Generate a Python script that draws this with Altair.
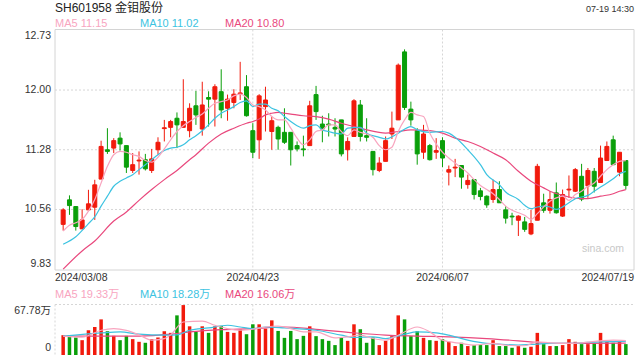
import altair as alt
import pandas as pd

FONT = "Liberation Sans, Arial, Noto Sans CJK SC, sans-serif"
RED = "#f11a0c"
GREEN = "#0a9f0a"
C5 = "#f8a5bf"
C10 = "#3cc3e1"
C20 = "#e9487d"
TXT = "#333333"
GRID = "#d6d6d6"

title_text = "SH601958 金钼股份"
time_text = "07-19 14:30"
watermark = "sina.com"
ma_names = ["MA5", "MA10", "MA20"]
price_ma_last = ["11.15", "11.02", "10.80"]
vol_ma_last = ["19.33万", "18.28万", "16.06万"]

price_ticks = [12.73, 12.00, 11.28, 10.56, 9.83]
vol_ticks = [67.78, 0]
vol_tick_labels = ["67.78万", "0"]
dates = ["2024/03/08", "2024/04/23", "2024/06/07", "2024/07/19"]
date_idx = [0, 30, 60, 89]

opens = [10.38, 10.676, 10.595, 10.326, 10.555, 10.587, 10.926, 11.28, 11.30, 11.42,
         11.33, 11.03, 11.145, 11.16, 11.03, 11.28, 11.535, 11.55, 11.66, 11.55,
         11.51, 11.81, 11.53, 11.91, 11.89, 11.98, 11.78, 11.85, 11.955, 12.04,
         11.51, 11.40, 11.80, 11.50, 11.55, 11.49, 11.49, 11.33, 11.29, 11.33,
         11.945, 11.59, 11.59, 11.55, 11.64, 11.28, 11.44, 11.82, 11.45, 11.26,
         11.03, 11.14, 11.47, 11.64, 12.46, 11.77, 11.51, 11.25, 11.33, 11.25,
         11.39, 11.01, 11.06, 11.09, 10.86, 10.92, 10.785, 10.72, 10.68, 10.80,
         10.555, 10.48, 10.43, 10.41, 10.265, 10.43, 10.64, 10.55, 10.76, 10.48,
         10.795, 10.78, 10.96, 10.845, 11.02, 10.885, 11.15, 11.40, 11.01, 11.15]
closes = [10.555, 10.607, 10.354, 10.434, 10.628, 10.857, 11.32, 11.26, 11.39, 11.35,
          11.07, 11.10, 11.155, 11.05, 11.17, 11.37, 11.545, 11.62, 11.58, 11.62,
          11.78, 11.70, 11.82, 11.89, 12.04, 11.76, 11.89, 11.95, 11.965, 11.69,
          11.25, 11.93, 11.88, 11.63, 11.41, 11.37, 11.28, 11.29, 11.28, 11.81,
          11.74, 11.53, 11.58, 11.53, 11.23, 11.38, 11.87, 11.44, 11.43, 11.04,
          11.12, 11.39, 11.54, 12.30, 11.79, 11.64, 11.23, 11.47, 11.16, 11.27,
          11.18, 11.04, 11.07, 10.95, 10.91, 10.74, 10.716, 10.615, 10.80, 10.64,
          10.455, 10.47, 10.48, 10.32, 10.39, 11.08, 10.55, 10.68, 10.52, 10.74,
          10.805, 11.04, 10.685, 11.03, 10.84, 11.18, 11.32, 11.10, 11.25, 10.85]
highs = [10.575, 10.73, 10.60, 10.563, 10.797, 10.918, 11.389, 11.54, 11.42, 11.49,
         11.33, 11.24, 11.26, 11.23, 11.29, 11.43, 11.64, 11.64, 11.73, 12.13,
         11.84, 11.99, 12.10, 11.985, 12.07, 12.25, 11.945, 12.01, 12.34, 12.18,
         11.60, 11.95, 12.04, 11.68, 11.57, 11.78, 11.49, 11.38, 11.45, 11.87,
         12.05, 11.69, 11.72, 11.66, 11.64, 11.43, 11.89, 11.88, 11.66, 11.26,
         11.19, 11.44, 11.74, 12.32, 12.49, 11.86, 11.54, 11.58, 11.35, 11.42,
         11.43, 11.09, 11.17, 11.09, 10.98, 10.92, 10.82, 10.73, 10.92, 10.90,
         10.60, 10.52, 10.49, 10.47, 10.555, 11.11, 10.75, 10.78, 10.885, 10.80,
         10.97, 11.06, 11.11, 11.06, 11.06, 11.33, 11.38, 11.45, 11.25, 11.15]
lows = [10.305, 10.495, 10.305, 10.326, 10.555, 10.434, 10.926, 11.23, 11.24, 11.27,
        11.00, 11.00, 10.98, 11.03, 11.00, 11.22, 11.38, 11.43, 11.30, 11.55,
        11.43, 11.58, 11.45, 11.56, 11.56, 11.66, 11.63, 11.78, 11.88, 11.68,
        11.18, 11.17, 11.50, 11.28, 11.28, 11.35, 11.09, 11.26, 11.20, 11.33,
        11.64, 11.37, 11.44, 11.44, 11.20, 11.15, 11.44, 11.38, 11.38, 10.97,
        11.01, 11.14, 11.41, 11.64, 11.76, 11.57, 11.10, 11.17, 11.15, 11.17,
        11.07, 10.85, 10.95, 10.81, 10.81, 10.68, 10.67, 10.58, 10.64, 10.64,
        10.39, 10.37, 10.24, 10.29, 10.25, 10.43, 10.52, 10.51, 10.51, 10.47,
        10.70, 10.77, 10.66, 10.70, 10.765, 10.88, 11.15, 11.10, 10.96, 10.80]
volumes = [26.6, 26.6, 23.5, 19.9, 33.2, 37.6, 47.8, 31.9, 25.7, 19.9,
           25.7, 21.3, 17.7, 16.4, 21.3, 23.5, 31.9, 29.7, 53.2, 67.0,
           38.5, 31.0, 38.5, 29.7, 38.5, 39.0, 31.0, 29.7, 34.1, 27.9,
           41.2, 41.2, 35.4, 46.5, 32.3, 23.0, 32.3, 21.3, 25.7, 38.5,
           25.3, 21.3, 19.0, 13.3, 23.5, 19.0, 41.2, 34.6, 16.4, 23.5,
           13.3, 19.0, 25.3, 53.2, 47.8, 25.3, 31.9, 23.0, 19.9, 19.0,
           21.3, 17.7, 12.0, 16.4, 12.0, 13.3, 13.3, 13.3, 19.9, 12.0,
           12.0, 9.7, 12.0, 9.7, 11.1, 29.7, 14.6, 12.0, 12.0, 13.3,
           21.3, 17.7, 14.6, 14.6, 15.5, 29.7, 17.7, 16.4, 17.7, 14.6]

# moving-average lines (index, value)
ma5_idx = list(range(90))
ma5_val = [10.30, 10.37, 10.40, 10.44, 10.54, 10.68, 10.88, 11.08, 11.22, 11.26,
           11.25, 11.22, 11.20, 11.15, 11.13, 11.19, 11.29, 11.40, 11.50, 11.57,
           11.62, 11.67, 11.71, 11.78, 11.84, 11.86, 11.88, 11.93, 11.95, 11.91,
           11.82, 11.80, 11.76, 11.68, 11.64, 11.64, 11.54, 11.42, 11.34, 11.40,
           11.50, 11.52, 11.58, 11.58, 11.50, 11.45, 11.52, 11.49, 11.47, 11.43,
           11.33, 11.28, 11.31, 11.50, 11.64, 11.73, 11.70, 11.68, 11.48, 11.35,
           11.25, 11.18, 11.12, 11.06, 11.00, 10.92, 10.85, 10.80, 10.75, 10.68,
           10.60, 10.55, 10.52, 10.49, 10.44, 10.51, 10.59, 10.66, 10.70, 10.72,
           10.67, 10.74, 10.78, 10.84, 10.88, 10.96, 11.04, 11.10, 11.14, 11.15]
ma10_idx = [0, 2, 4, 5, 6, 7, 8, 9, 10, 11, 12, 13, 14, 15, 16, 17, 18, 19, 20, 21,
            22, 23, 24, 25, 26, 27, 28, 29, 30, 31, 32, 33, 34, 35, 36, 37, 38, 39, 40, 41,
            42, 43, 44, 45, 47, 48, 50, 51, 53, 55, 56, 58, 60, 61, 62, 64, 66, 67, 69, 70,
            72, 73, 74, 75, 76, 77, 78, 80, 81, 83, 84, 85, 87, 88, 89]
ma10_val = [10.14, 10.23, 10.39, 10.47, 10.60, 10.72, 10.84, 10.90, 10.94, 10.98,
            11.04, 11.10, 11.16, 11.22, 11.27, 11.30, 11.31, 11.34, 11.40, 11.45,
            11.51, 11.58, 11.66, 11.72, 11.76, 11.80, 11.85, 11.87, 11.80, 11.83,
            11.83, 11.78, 11.75, 11.68, 11.62, 11.57, 11.54, 11.57, 11.58, 11.52,
            11.50, 11.48, 11.47, 11.54, 11.55, 11.48, 11.43, 11.41, 11.48, 11.56,
            11.52, 11.49, 11.50, 11.48, 11.43, 11.28, 11.10, 10.98, 10.86, 10.77,
            10.68, 10.61, 10.57, 10.59, 10.60, 10.59, 10.56, 10.64, 10.69, 10.73,
            10.78, 10.83, 10.93, 10.99, 11.02]
ma20_idx = [0, 3, 5, 8, 10, 12, 14, 16, 18, 20, 21, 23, 25, 27, 29, 30, 31, 32, 33, 34,
            35, 36, 38, 40, 42, 44, 46, 48, 51, 53, 55, 58, 60, 62, 64, 66, 68, 70, 72, 74,
            76, 77, 79, 80, 82, 83, 85, 87, 88, 89]
ma20_val = [9.84, 10.06, 10.18, 10.42, 10.53, 10.67, 10.80, 10.92, 11.03, 11.16,
            11.22, 11.36, 11.47, 11.54, 11.60, 11.62, 11.65, 11.70, 11.72, 11.73,
            11.72, 11.71, 11.69, 11.68, 11.65, 11.60, 11.56, 11.52, 11.48, 11.50,
            11.52, 11.51, 11.48, 11.42, 11.38, 11.32, 11.24, 11.16, 11.02, 10.90,
            10.82, 10.78, 10.73, 10.71, 10.69, 10.69, 10.72, 10.75, 10.78, 10.80]

vma5_idx = [0, 3, 6, 8, 10, 12, 14, 16, 17, 19, 22, 24, 26, 28, 30, 32, 34, 36, 38, 40,
            43, 45, 47, 49, 51, 53, 56, 58, 60, 63, 65, 68, 70, 73, 75, 77, 80, 82, 85, 87, 89]
vma5_val = [25.3, 24.0, 33.2, 35.4, 33.0, 27.0, 20.0, 22.0, 27.0, 44.3, 45.6, 39.9, 35.4,
            33.2, 34.6, 37.6, 38.9, 35.4, 31.0, 31.0, 23.0, 24.4, 26.6, 22.1, 19.9, 26.6,
            37.6, 31.0, 19.9, 15.5, 13.3, 15.5, 13.3, 12.4, 17.7, 16.4, 15.5, 16.4, 19.0,
            19.9, 19.33]
vma10_idx = [0, 6, 9, 12, 16, 18, 20, 23, 26, 28, 30, 32, 35, 38, 40, 44, 46, 49, 51, 54,
             56, 59, 61, 64, 67, 69, 72, 74, 77, 80, 82, 85, 89]
vma10_val = [25.3, 29.7, 31.0, 27.9, 26.6, 27.0, 33.2, 36.3, 39.9, 37.6, 35.4, 37.6, 36.3,
             34.6, 33.2, 26.6, 23.5, 24.4, 22.1, 27.9, 31.0, 29.7, 26.6, 19.9, 15.5, 14.6,
             13.3, 14.2, 15.5, 15.5, 16.4, 17.7, 18.28]
vma20_idx = [0, 6, 12, 17, 20, 25, 30, 35, 40, 46, 51, 56, 61, 67, 72, 75, 77, 82, 89]
vma20_val = [25.3, 25.3, 25.3, 27.9, 31.0, 34.1, 35.4, 37.6, 34.5, 29.7, 26.6, 25.3, 24.4,
             22.1, 19.0, 16.8, 15.5, 15.5, 16.06]

# ---------------------------------------------------------------- tables
df = pd.DataFrame({"i": list(range(len(opens))), "open": opens, "close": closes,
                   "high": highs, "low": lows, "vol": volumes})
df["dir"] = ["up" if c >= o else "down" for o, c in zip(opens, closes)]

X = alt.X("i:Q", scale=alt.Scale(domain=[-0.5, 89.5], range=[55, 634]), axis=None)
PY = alt.Scale(domain=[9.83, 12.73], range=[270, 29.5])
VY = alt.Scale(domain=[0, 67.78], range=[355, 304.5])
dir_scale = alt.Scale(domain=["up", "down"], range=[RED, GREEN])

base = alt.Chart(df)
wicks = base.mark_rule(strokeWidth=1).encode(
    x=X, y=alt.Y("low:Q", scale=PY, axis=None), y2="high:Q",
    color=alt.Color("dir:N", scale=dir_scale, legend=None))
bodies = base.mark_bar(size=4, strokeWidth=1).encode(
    x=X, y=alt.Y("open:Q", scale=PY, axis=None), y2="close:Q",
    color=alt.Color("dir:N", scale=dir_scale, legend=None),
    stroke=alt.Stroke("dir:N", scale=dir_scale, legend=None))
vbars = base.mark_bar(size=3.5).encode(
    x=X, y=alt.Y("vol:Q", scale=VY, axis=None),
    color=alt.Color("dir:N", scale=dir_scale, legend=None))


def ma_line(idx, vals, color, yscale):
    d = pd.DataFrame({"i": idx, "v": vals})
    return alt.Chart(d).mark_line(color=color, strokeWidth=1.2, interpolate="monotone").encode(
        x=X, y=alt.Y("v:Q", scale=yscale, axis=None))


lines = [ma_line(ma20_idx, ma20_val, C20, PY), ma_line(ma10_idx, ma10_val, C10, PY),
         ma_line(ma5_idx, ma5_val, C5, PY)]
vlines = [ma_line(vma20_idx, vma20_val, C20, VY), ma_line(vma10_idx, vma10_val, C10, VY),
          ma_line(vma5_idx, vma5_val, C5, VY)]

one = pd.DataFrame({"a": [0]})

frame = alt.Chart(one).mark_rect(fill="transparent", stroke="#d4d4d4", strokeWidth=1).encode(
    x=alt.value(55), x2=alt.value(634), y=alt.value(29.5), y2=alt.value(270))

tick_df = pd.DataFrame({"v": price_ticks, "t": ["%.2f" % v for v in price_ticks]})
hgrid = alt.Chart(tick_df.iloc[1:-1]).mark_rule(color=GRID, strokeDash=[2, 2]).encode(
    y=alt.Y("v:Q", scale=PY, axis=None), x=alt.value(55), x2=alt.value(634))

vgrid_df = pd.DataFrame({"i": date_idx[1:-1]})
vgrid = alt.Chart(vgrid_df).mark_rule(color=GRID, strokeDash=[2, 2]).encode(
    x=X, y=alt.value(29.5), y2=alt.value(270))
vgrid2 = alt.Chart(vgrid_df).mark_rule(color=GRID, strokeDash=[2, 2]).encode(
    x=X, y=alt.value(304.5), y2=alt.value(355))

vtop = alt.Chart(pd.DataFrame({"v": vol_ticks[:1]})).mark_rule(color=GRID, strokeDash=[2, 2]).encode(
    y=alt.Y("v:Q", scale=VY, axis=None), x=alt.value(55), x2=alt.value(634))
vleft = alt.Chart(one).mark_rule(color=GRID, strokeDash=[2, 2]).encode(
    x=alt.value(55), y=alt.value(304.5), y2=alt.value(355))


def ylab(d, yscale, baseline, dy=0):
    return alt.Chart(d).mark_text(align="right", baseline=baseline, dy=dy, font=FONT,
                                  fontSize=10.5, color=TXT).encode(
        x=alt.value(51), y=alt.Y("v:Q", scale=yscale, axis=None), text="t:N")


plabs = [ylab(tick_df.iloc[:1], PY, "top", 1), ylab(tick_df.iloc[1:-1], PY, "middle"),
         ylab(tick_df.iloc[-1:], PY, "bottom", -1)]
vt_df = pd.DataFrame({"v": vol_ticks, "t": vol_tick_labels})
vlabs = [ylab(vt_df.iloc[:1], VY, "top", 1), ylab(vt_df.iloc[1:], VY, "bottom", -2)]


def text_at(s, x, y, color=TXT, size=11, align="left"):
    return alt.Chart(pd.DataFrame({"t": [s]})).mark_text(
        align=align, baseline="middle", font=FONT, fontSize=size, color=color).encode(
        x=alt.value(x), y=alt.value(y), text="t:N")


d_df = pd.DataFrame({"i": date_idx, "t": dates})
date_first = alt.Chart(d_df.iloc[:1]).mark_text(align="left", baseline="middle", font=FONT,
                                               fontSize=10.5, color=TXT).encode(
    x=alt.value(55), y=alt.value(278), text="t:N")
date_mid = alt.Chart(d_df.iloc[1:-1]).mark_text(align="center", baseline="middle", font=FONT,
                                               fontSize=10.5, color=TXT).encode(
    x=X, y=alt.value(278), text="t:N")
date_last = alt.Chart(d_df.iloc[-1:]).mark_text(align="right", baseline="middle", font=FONT,
                                               fontSize=10.5, color=TXT).encode(
    x=alt.value(634), y=alt.value(278), text="t:N")

legend_cols = [C5, C10, C20]
legend_x = [55, 140, 225]
legends = []
for k in range(3):
    legends.append(text_at(ma_names[k] + " " + price_ma_last[k], legend_x[k], 24, legend_cols[k]))
    legends.append(text_at(ma_names[k] + " " + vol_ma_last[k], legend_x[k], 295, legend_cols[k]))

texts = [text_at(title_text, 55, 8, "#222222", 12),
         text_at(time_text, 634, 9, TXT, 9, "right"),
         text_at(watermark, 582, 249, "#c8c8c8", 10.5)]

chart = alt.layer(
    frame, hgrid, vgrid, vgrid2, vtop, vleft,
    *texts,
    wicks, bodies, *lines,
    vbars, *vlines,
    *plabs, *vlabs, date_first, date_mid, date_last, *legends,
).resolve_scale(y="independent").properties(
    width=640, height=360, padding=0, autosize=alt.AutoSizeParams(type="none"),
    background="white",
).configure_view(stroke=None)

chart.save("out.html", embed_options={"renderer": "svg", "actions": False})
